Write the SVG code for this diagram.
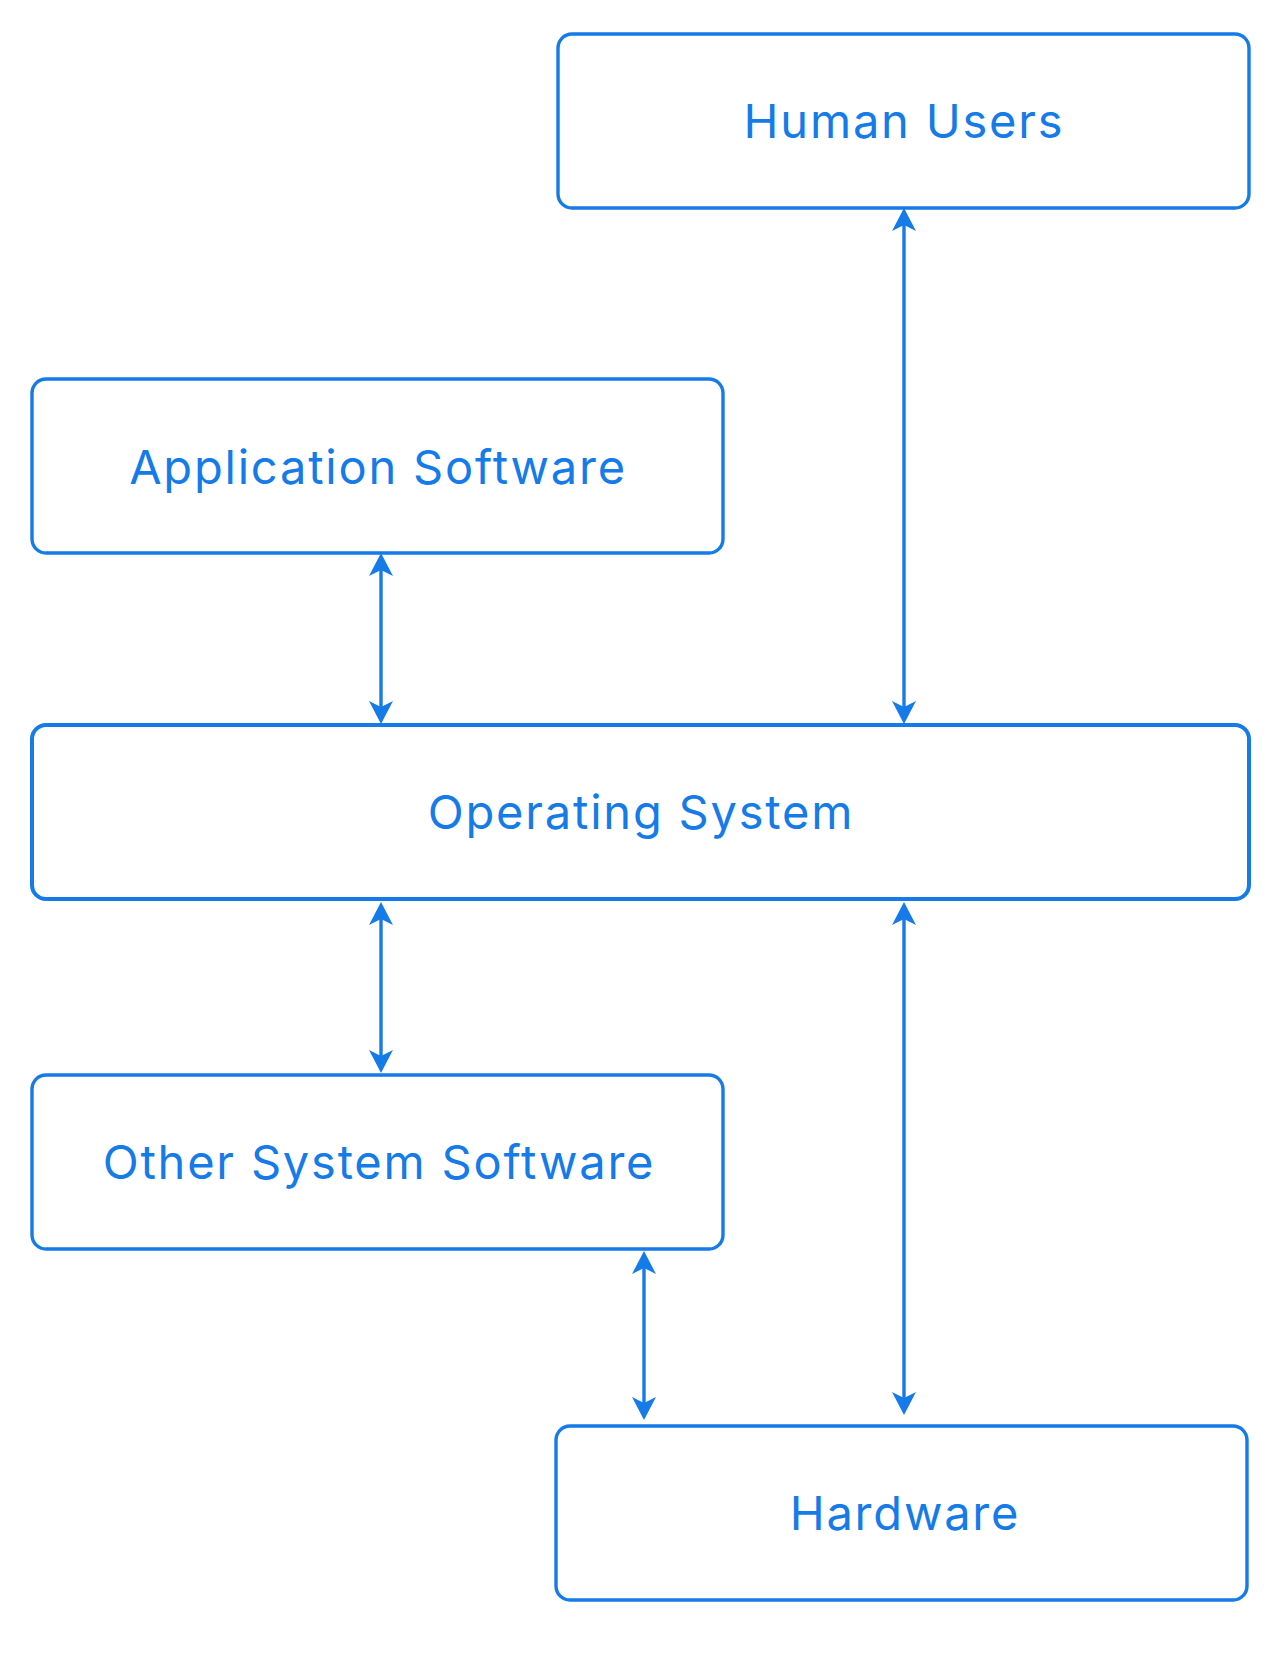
<svg xmlns="http://www.w3.org/2000/svg" width="1280" height="1670" viewBox="0 0 1280 1670">
  <defs>
    <style>
      .box { fill: #ffffff; stroke: #157BE9; stroke-width: 3.4; }
      .box.thick { stroke-width: 4; }
      .label { font-family: Inter, "Noto Sans", "Liberation Sans", sans-serif; font-size: 47px; letter-spacing: 1.8px; fill: #157BE9; text-anchor: middle; }
      .conn { stroke: #157BE9; stroke-width: 3.4; fill: none; marker-start: url(#arrow); marker-end: url(#arrow); }
    </style>
    <marker id="arrow" markerUnits="userSpaceOnUse" markerWidth="26" markerHeight="28" viewBox="0 -14 26 28" refX="11" refY="0" orient="auto-start-reverse">
      <path d="M0,-12 L23,0 L0,12 L6,0 Z" fill="#157BE9"/>
    </marker>
  </defs>
  <rect width="1280" height="1670" fill="#ffffff"/>

  <g id="connectors">
    <line class="conn" x1="904" y1="220" x2="904" y2="712"/>
    <line class="conn" x1="381" y1="565" x2="381" y2="712"/>
    <line class="conn" x1="381" y1="914" x2="381" y2="1061"/>
    <line class="conn" x1="904" y1="914" x2="904" y2="1403"/>
    <line class="conn" x1="644" y1="1263" x2="644" y2="1408"/>
  </g>

  <g id="human-users">
    <rect class="box" x="558" y="34" width="691" height="174" rx="14"/>
    <text class="label" x="904" y="138">Human Users</text>
  </g>

  <g id="application-software">
    <rect class="box" x="32" y="379" width="691" height="174" rx="14"/>
    <text class="label" x="378" y="484">Application Software</text>
  </g>

  <g id="operating-system">
    <rect class="box thick" x="32" y="725" width="1217" height="174" rx="14"/>
    <text class="label" x="641" y="829">Operating System</text>
  </g>

  <g id="other-system-software">
    <rect class="box" x="32" y="1075" width="691" height="174" rx="14"/>
    <text class="label" x="379" y="1179">Other System Software</text>
  </g>

  <g id="hardware">
    <rect class="box" x="556" y="1426" width="691" height="174" rx="14"/>
    <text class="label" x="905" y="1530">Hardware</text>
  </g>
</svg>
